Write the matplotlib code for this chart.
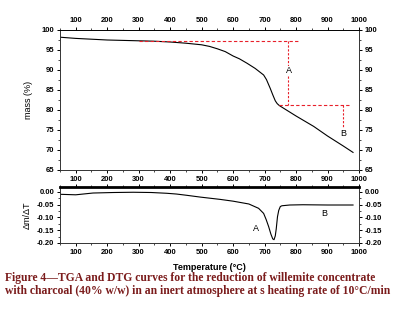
import matplotlib
matplotlib.use("Agg")
import matplotlib.pyplot as plt
from matplotlib.ticker import MultipleLocator

# TGA curve (mass %)
tga_temp = [50, 100, 150, 200, 250, 300, 350, 400, 450, 500, 525, 550, 575, 600, 620,
            644, 670, 697, 706, 718, 726, 734, 740, 747, 800, 856, 900, 950, 981]
tga_mass = [98.2, 97.9, 97.7, 97.5, 97.4, 97.3, 97.2, 97.0, 96.7, 96.3, 95.9, 95.3,
            94.6, 93.5, 92.8, 91.7, 90.4, 88.75, 87.6, 85.4, 83.8, 82.3, 81.6, 81.1,
            78.5, 75.9, 73.5, 71.0, 69.4]

# DTG curve
dtg_temp = [50, 100, 155, 220, 283, 340, 389, 420, 453, 496, 559, 600, 650, 681, 697,
            705, 713, 720, 726, 730, 734, 737, 741, 745, 750, 755, 780, 822, 900, 981]
dtg_val = [-0.009, -0.011, -0.004, -0.002, -0.001, -0.002, -0.005, -0.008, -0.013,
           -0.020, -0.029, -0.036, -0.047, -0.064, -0.084, -0.108, -0.136, -0.165,
           -0.184, -0.187, -0.172, -0.145, -0.097, -0.072, -0.057, -0.054, -0.051,
           -0.050, -0.051, -0.051]

# step construction lines (A, B)
step_a_y = [97.3, 81.25]
step_a_x = 776
step_a_h = [300, 808]
step_b_h = [746, 969]
step_b_x = 949
step_b_y = [81.25, 75.8]

caption = ("Figure 4\u2014TGA and DTG curves for the reduction of willemite concentrate\n"
           "with charcoal (40% w/w) in an inert atmosphere at s heating rate of 10\u00b0C/min")

plt.rcParams['font.family'] = ['Liberation Sans', 'DejaVu Sans']

fig = plt.figure(figsize=(3.95, 3.3), dpi=100)
ax1 = fig.add_axes([60/395, 1-170/330, 299/395, 140/330])
ax2 = fig.add_axes([60/395, 1-243/330, 299/395, 56/330])

red = '#e8202a'

# top: TGA
ax1.plot(tga_temp, tga_mass, color='black', lw=0.8)
ax1.plot(step_a_h, [step_a_y[0]] * 2, color=red, lw=0.8, ls=(0, (3, 2)))
ax1.plot([step_a_x] * 2, step_a_y, color=red, lw=0.8, ls=(0, (2, 1.5)))
ax1.plot(step_b_h, [step_b_y[0]] * 2, color=red, lw=0.8, ls=(0, (3, 2)))
ax1.plot([step_b_x] * 2, step_b_y, color=red, lw=0.8, ls=(0, (2, 1.5)))
ax1.text(step_a_x, 89.8, 'A', ha='center', va='center', fontsize=6.5,
         bbox=dict(fc='white', ec='none', pad=0.3))
ax1.text(step_b_x, 74.2, 'B', ha='center', va='center', fontsize=6.5)
ax1.set_xlim(50, 1000)
ax1.set_ylim(65, 100)
ax1.set_ylabel('mass (%)', fontsize=6.5, labelpad=6)
ax1.yaxis.set_major_locator(MultipleLocator(5))
ax1.yaxis.set_minor_locator(MultipleLocator(2.5))
ax1.tick_params(top=True, right=True, labeltop=True, labelright=True, labelbottom=True)
ax1.tick_params(which='minor', top=True, right=True, bottom=True, left=True)

# bottom: DTG
ax2.plot(dtg_temp, dtg_val, color='black', lw=0.8)
ax2.text(673, -0.142, 'A', ha='center', va='center', fontsize=6.5)
ax2.text(890, -0.084, 'B', ha='center', va='center', fontsize=6.5)
ax2.set_xlim(50, 1000)
ax2.set_ylim(-0.2, 0.0196)
ax2.set_ylabel('\u0394m/\u0394T', fontsize=6.5, labelpad=4)
ax2.set_xlabel('Temperature (\u00b0C)', fontsize=6.5, fontweight='bold', labelpad=5)
ax2.yaxis.set_major_locator(MultipleLocator(0.05))
ax2.yaxis.set_minor_locator(MultipleLocator(0.025))
ax2.yaxis.set_major_formatter(matplotlib.ticker.FormatStrFormatter('%.2f'))
ax2.tick_params(top=True, right=True, labelright=True)
ax2.tick_params(which='minor', top=True, right=True, bottom=True, left=True)
ax2.spines['top'].set_linewidth(2.0)

for ax in (ax1, ax2):
    ax.xaxis.set_major_locator(MultipleLocator(100))
    ax.xaxis.set_minor_locator(MultipleLocator(50))
    ax.tick_params(which='major', length=2.5, width=0.7, pad=1.5, labelsize=5.5)
    ax.tick_params(which='minor', length=1.5, width=0.5)
    for lbl in ax.get_xticklabels() + ax.get_yticklabels():
        lbl.set_fontweight('bold')
    for s in ('left', 'bottom', 'right'):
        ax.spines[s].set_linewidth(0.7)
        ax.spines[s].set_color('#333333')
ax1.spines['top'].set_linewidth(0.7)

fig.text(5/395, 1-272/330, caption, ha='left', va='top', fontsize=8.4,
         family='Liberation Serif', fontweight='bold', color='#7b1c1c',
         linespacing=1.1)

fig.savefig('out.png', dpi=100)
